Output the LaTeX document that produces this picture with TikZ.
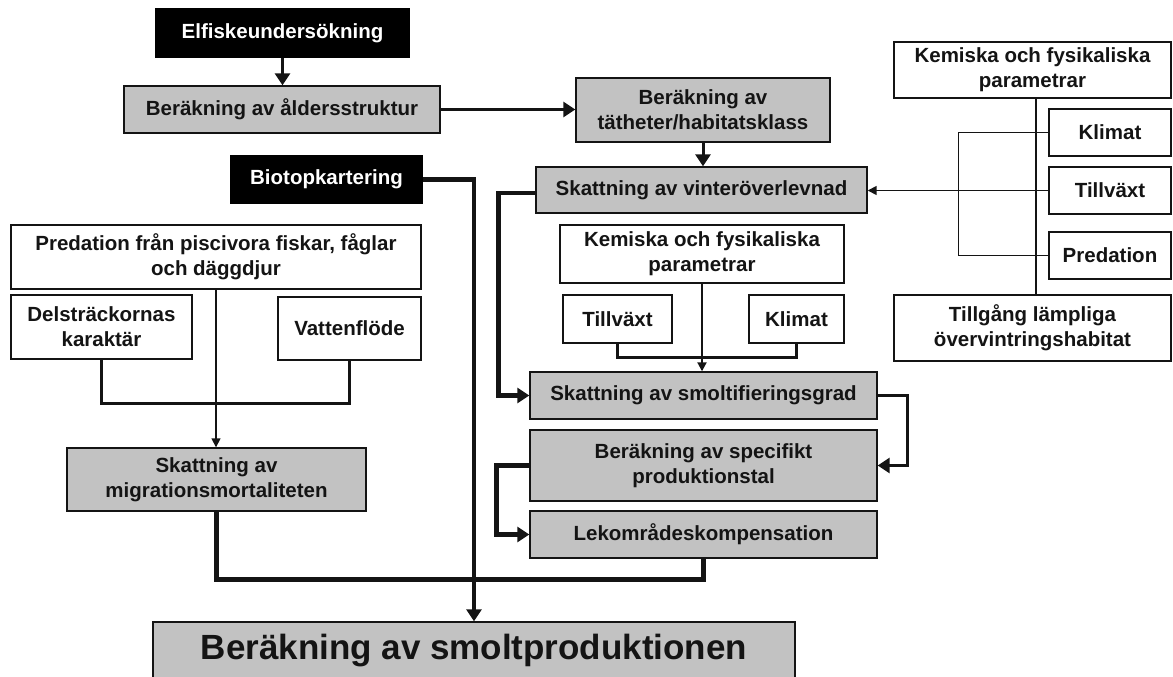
\documentclass[tikz,border=0pt]{standalone}
\usepackage{fontspec}
\setmainfont{Liberation Sans}
\usetikzlibrary{arrows.meta}
\definecolor{boxgray}{RGB}{194,194,194}
\definecolor{ink}{RGB}{20,20,20}
\begin{document}
\begin{tikzpicture}[x=1pt,y=-1pt,
  box/.style={draw=ink, line width=1.4pt, inner sep=0pt, align=center, text=ink,
    font=\fontsize{20.5}{25}\selectfont\bfseries},
  wbox/.style={box, fill=white},
  gbox/.style={box, fill=boxgray},
  bbox/.style={box, fill=black, draw=black, text=white},
  lthin/.style={line width=1.6pt, draw=ink},
  lthinb/.style={line width=2pt, draw=ink},
  lmed/.style={line width=3pt, draw=ink},
  lheavy/.style={line width=4.5pt, draw=ink},
  arrowbig/.style={-{Triangle[length=12pt,width=15pt]}},
  arrowsmall/.style={-{Triangle[length=9pt,width=9pt]}}]
\useasboundingbox (0,0) rectangle (1173,677);
\fill[white] (0,0) rectangle (1173,677);

% nodes
\node[bbox, minimum width=253pt, minimum height=48pt] (E) at (282.5,33) {Elfiskeundersökning};
\node[gbox, minimum width=316pt, minimum height=47pt] (A) at (282,109.5) {Beräkning av åldersstruktur};
\node[gbox, minimum width=254pt, minimum height=64pt] (T) at (703,110) {Beräkning av\\tätheter/habitatsklass};
\node[gbox, minimum width=331pt, minimum height=46pt] (V) at (701.5,190) {Skattning av vinteröverlevnad};
\node[bbox, minimum width=191pt, minimum height=47pt] (B) at (326.5,179.5) {Biotopkartering};
\node[wbox, minimum width=410pt, minimum height=64pt] (P) at (216,257) {Predation från piscivora fiskar, fåglar\\och däggdjur};
\node[wbox, minimum width=181pt, minimum height=64pt] (D) at (101.5,327) {Delsträckornas\\karaktär};
\node[wbox, minimum width=143pt, minimum height=63pt] (W) at (349.5,328.5) {Vattenflöde};
\node[gbox, minimum width=299pt, minimum height=63pt] (M) at (216.5,479.5) {Skattning av\\migrationsmortaliteten};
\node[wbox, minimum width=277pt, minimum height=56pt] (K1) at (1032.5,70) {Kemiska och fysikaliska\\parametrar};
\node[wbox, minimum width=122pt, minimum height=47pt] (KL) at (1110,132.5) {Klimat};
\node[wbox, minimum width=122pt, minimum height=47pt] (TV) at (1110,190.5) {Tillväxt};
\node[wbox, minimum width=122pt, minimum height=47pt] (PR) at (1110,255.5) {Predation};
\node[wbox, minimum width=277pt, minimum height=66pt] (TG) at (1032.5,328) {Tillgång lämpliga\\övervintringshabitat};
\node[wbox, minimum width=284pt, minimum height=58pt] (K2) at (702,254) {Kemiska och fysikaliska\\parametrar};
\node[wbox, minimum width=109pt, minimum height=48pt] (T2) at (617.5,319) {Tillväxt};
\node[wbox, minimum width=95pt, minimum height=48pt] (K3) at (796.5,319) {Klimat};
\node[gbox, minimum width=347pt, minimum height=47pt] (S) at (703.5,395.5) {Skattning av smoltifieringsgrad};
\node[gbox, minimum width=347pt, minimum height=71pt] (SP) at (703.5,465.5) {Beräkning av specifikt\\produktionstal};
\node[gbox, minimum width=347pt, minimum height=47pt] (L) at (703.5,534.5) {Lekområdeskompensation};
\node[gbox, minimum width=642pt, minimum height=58pt, font=\fontsize{35}{40}\selectfont\bfseries] (F) at (474,651) {Beräkning av smoltproduktionen};

% connectors
\draw[lmed, arrowbig] (E.south) -- (E.south |- A.north);
\draw[lmed, arrowbig] (A.east) -- (A.east -| T.west);
\draw[lmed, arrowbig] (T.south) -- (T.south |- V.north);
\draw[lthin, arrowsmall] (TV.west) -- (TV.west -| V.east);
\draw[lheavy, arrowbig] (B.east) -| (F.north);
\draw[lheavy, arrowbig] ([yshift=-3pt]V.west) -- ++(-37,0) |- (S.west);
\draw[lthin] (KL.west) -- ++(-90,0) |- (PR.west);
\draw[lthin] ([xshift=3.5pt]K1.south) -- ([xshift=3.5pt]TG.north);
\draw[lthin, arrowsmall] (P.south) -- (P.south |- M.north);
\draw[lmed] (D.south) -- ++(0,44) -| (W.south);
\draw[lthinb, arrowsmall] (K2.south) -- (K2.south |- S.north);
\draw[lmed] (T2.south) -- ++(0,14) -| (K3.south);
\draw[lmed, arrowbig] (S.east) -- ++(30,0) |- (SP.east);
\draw[lheavy, arrowbig] (SP.west) -- ++(-33,0) |- (L.west);
\draw[lheavy] (L.south) -- ++(0,21) -| (M.south);
\end{tikzpicture}
\end{document}
